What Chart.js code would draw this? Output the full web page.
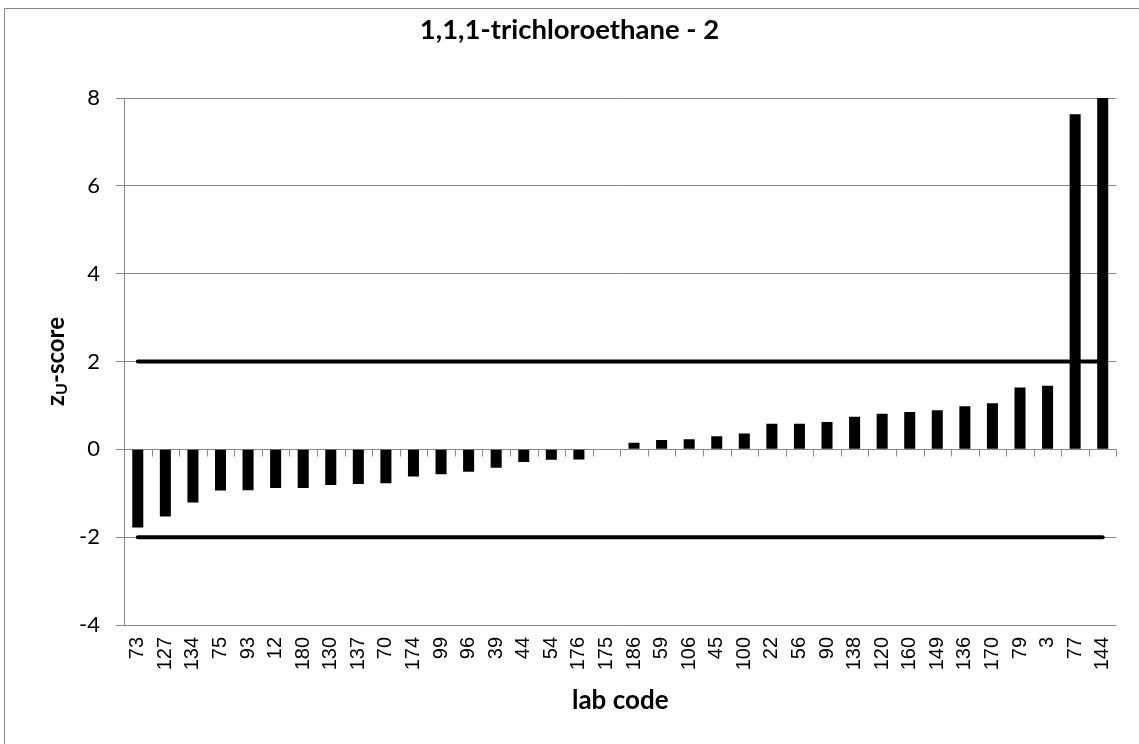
<!DOCTYPE html>
<html>
<head>
<meta charset="utf-8">
<script src="https://cdn.jsdelivr.net/npm/chart.js@4.4.1/dist/chart.umd.min.js"></script>
<style>
  html, body { margin: 0; padding: 0; background: #fff; }
  #wrap { width: 1139px; height: 744px; }
</style>
</head>
<body>
<div id="wrap"><canvas id="chart" width="1139" height="744"></canvas></div>
<script>
// lab codes, sorted by z-score
const labs = ["73", "127", "134", "75", "93", "12", "180", "130", "137", "70", "174", "99",
  "96", "39", "44", "54", "176", "175", "186", "59", "106", "45", "100", "22", "56", "90",
  "138", "120", "160", "149", "136", "170", "79", "3", "77", "144"];

// zU-scores (144 runs past the top of the axis)
const scores = [-1.78, -1.53, -1.21, -0.94, -0.93, -0.88, -0.88, -0.81, -0.79, -0.77, -0.62, -0.57,
  -0.51, -0.42, -0.29, -0.24, -0.23, -0.01, 0.15, 0.21, 0.23, 0.30, 0.36, 0.58, 0.58, 0.62,
  0.74, 0.81, 0.85, 0.89, 0.98, 1.05, 1.41, 1.45, 7.63, 8.4];

const yTicks = [-4, -2, 0, 2, 4, 6, 8];
const limitHigh = 2;
const limitLow = -2;

const GRID = "#898989";
const calibriLike = "Lato, Carlito, 'Open Sans', sans-serif";

const limitLine = (v) => ({
  type: "line",
  data: [{ x: labs[0], y: v }, { x: labs[labs.length - 1], y: v }],
  borderColor: "#000",
  borderWidth: 4,
  borderCapStyle: "round",
  pointRadius: 0,
  order: 0,
});

// frame, tick marks on the zero line and the y title with subscript
const decor = {
  id: "decor",
  beforeDraw(chart) {
    const { ctx, width, height } = chart;
    ctx.save();
    ctx.fillStyle = "#fff";
    ctx.fillRect(0, 0, width, height);
    ctx.strokeStyle = GRID;
    ctx.lineWidth = 1;
    ctx.strokeRect(4.5, 8.5, width + 20, height + 20);
    ctx.restore();
  },
  beforeDatasetsDraw(chart) {
    const { ctx } = chart;
    const x = chart.scales.x;
    const y0 = Math.round(chart.scales.y.getPixelForValue(0)) + 0.5;
    const half = (x.getPixelForValue(1) - x.getPixelForValue(0)) / 2;
    ctx.save();
    ctx.strokeStyle = GRID;
    ctx.lineWidth = 1;
    ctx.beginPath();
    for (let i = 0; i <= labs.length; i++) {
      const px = Math.round(x.getPixelForValue(0) - half + i * 2 * half) + 0.5;
      ctx.moveTo(px, y0);
      ctx.lineTo(px, y0 + 7);
    }
    ctx.stroke();
    ctx.restore();
  },
  afterDraw(chart) {
    const { ctx, chartArea } = chart;
    const big = "bold 24px " + calibriLike;
    const small = "bold 16px " + calibriLike;
    ctx.save();
    ctx.translate(56, (chartArea.top + chartArea.bottom) / 2);
    ctx.rotate(-Math.PI / 2);
    ctx.fillStyle = "#000";
    ctx.textBaseline = "middle";
    ctx.font = big;
    const w1 = ctx.measureText("z").width;
    const w3 = ctx.measureText("-score").width;
    ctx.font = small;
    const w2 = ctx.measureText("U").width;
    let cx = -(w1 + w2 + w3) / 2;
    ctx.textAlign = "left";
    ctx.font = big;
    ctx.fillText("z", cx, 0);
    cx += w1;
    ctx.font = small;
    ctx.fillText("U", cx, 6);
    cx += w2;
    ctx.font = big;
    ctx.fillText("-score", cx, 0);
    ctx.restore();
  },
};

new Chart(document.getElementById("chart"), {
  data: {
    labels: labs,
    datasets: [
      {
        type: "bar",
        data: scores,
        backgroundColor: "#000",
        barPercentage: 0.4,
        categoryPercentage: 1,
        order: 1,
      },
      limitLine(limitHigh),
      limitLine(limitLow),
    ],
  },
  options: {
    responsive: false,
    animation: false,
    layout: { padding: { left: 21, right: 21, top: 0, bottom: 0 } },
    plugins: {
      legend: { display: false },
      tooltip: { enabled: false },
      title: {
        display: true,
        text: "1,1,1-trichloroethane - 2",
        color: "#000",
        font: { family: calibriLike, size: 27.5, weight: "bold" },
        padding: { top: 14, bottom: 51 },
      },
    },
    scales: {
      x: {
        grid: { display: false, drawTicks: false },
        border: { display: false },
        ticks: {
          autoSkip: false,
          maxRotation: 90,
          minRotation: 90,
          padding: 12,
          color: "#000",
          font: { family: "'Liberation Sans', Arial, sans-serif", size: 20 },
        },
        title: {
          display: true,
          text: "lab code",
          color: "#000",
          font: { family: calibriLike, size: 26, weight: "bold" },
          padding: { top: 28, bottom: 28 },
        },
        afterFit(scale) { scale.height = 119; },
      },
      y: {
        min: -4,
        max: 8,
        afterBuildTicks(scale) { scale.ticks = yTicks.map((v) => ({ value: v })); },
        grid: { color: GRID, tickLength: 8 },
        border: { color: GRID },
        ticks: {
          padding: 16,
          color: "#000",
          font: { family: calibriLike, size: 22 },
        },
        afterFit(scale) { scale.width = 103; },
      },
    },
  },
  plugins: [decor],
});
</script>
</body>
</html>
